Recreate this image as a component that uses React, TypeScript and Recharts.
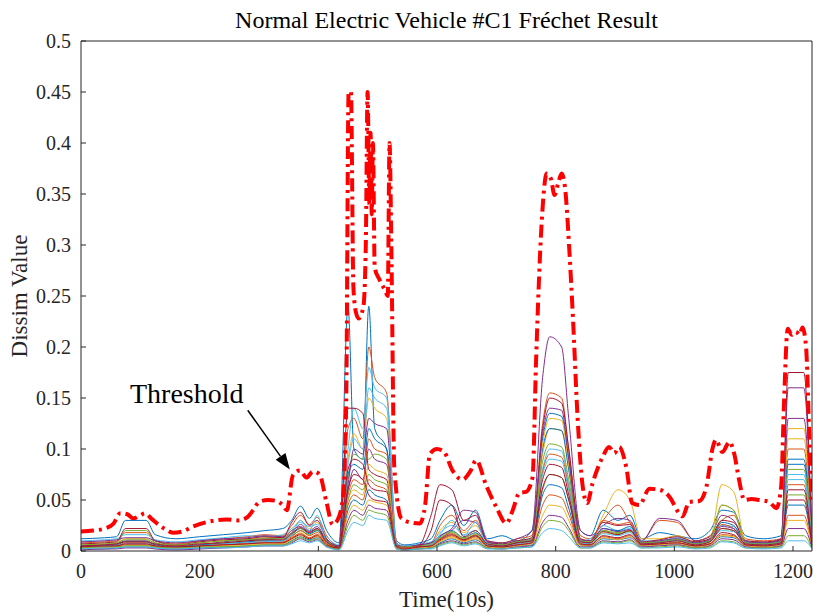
import React from 'react';
import { LineChart, Line, XAxis, YAxis, ReferenceLine } from 'recharts';

// time axis (10 s units) shared by every per-vehicle curve
const times = [0, 40, 60, 75, 110, 125, 160, 200, 240, 280, 310, 340, 355, 370, 385, 398, 414, 435, 450, 460, 475, 485, 495, 515, 532, 545, 570, 590, 605, 625, 645, 665, 685, 710, 735, 760, 778, 790, 810, 822, 842, 858, 880, 905, 925, 945, 975, 1005, 1035, 1060, 1080, 1100, 1120, 1150, 1180, 1192, 1218, 1232];

const s01 = [0.012, 0.013, 0.014, 0.03, 0.03, 0.016, 0.012, 0.014, 0.016, 0.018, 0.02, 0.022, 0.03, 0.044, 0.032, 0.042, 0.02, 0.008, 0.24, 0.1, 0.09, 0.24, 0.12, 0.1, 0.01, 0.006, 0.008, 0.012, 0.03, 0.045, 0.025, 0.04, 0.012, 0.015, 0.01, 0.02, 0.11, 0.135, 0.132, 0.09, 0.02, 0.015, 0.04, 0.03, 0.035, 0.012, 0.018, 0.015, 0.012, 0.02, 0.04, 0.038, 0.015, 0.012, 0.015, 0.085, 0.085, 0.01];
const s02 = [0.008, 0.009, 0.01, 0.018, 0.018, 0.01, 0.007, 0.01, 0.012, 0.014, 0.016, 0.015, 0.025, 0.035, 0.026, 0.033, 0.015, 0.005, 0.12, 0.13, 0.11, 0.2, 0.17, 0.155, 0.008, 0.004, 0.006, 0.008, 0.025, 0.035, 0.02, 0.03, 0.01, 0.008, 0.012, 0.015, 0.125, 0.155, 0.15, 0.1, 0.015, 0.012, 0.03, 0.045, 0.028, 0.01, 0.03, 0.028, 0.01, 0.015, 0.03, 0.035, 0.012, 0.01, 0.012, 0.1, 0.1, 0.008];
const s03 = [0.006, 0.007, 0.008, 0.012, 0.012, 0.008, 0.005, 0.008, 0.01, 0.012, 0.013, 0.014, 0.02, 0.03, 0.022, 0.028, 0.012, 0.004, 0.09, 0.115, 0.1, 0.15, 0.14, 0.13, 0.006, 0.003, 0.005, 0.007, 0.02, 0.028, 0.018, 0.025, 0.008, 0.006, 0.01, 0.012, 0.095, 0.12, 0.118, 0.08, 0.012, 0.01, 0.035, 0.06, 0.05, 0.012, 0.012, 0.015, 0.009, 0.012, 0.065, 0.058, 0.01, 0.008, 0.01, 0.12, 0.12, 0.007];
const s04 = [0.005, 0.006, 0.007, 0.01, 0.01, 0.006, 0.004, 0.006, 0.009, 0.011, 0.012, 0.013, 0.018, 0.026, 0.02, 0.024, 0.01, 0.004, 0.06, 0.08, 0.07, 0.1, 0.09, 0.085, 0.005, 0.005, 0.006, 0.008, 0.012, 0.02, 0.03, 0.028, 0.01, 0.008, 0.012, 0.02, 0.17, 0.21, 0.2, 0.13, 0.02, 0.015, 0.025, 0.032, 0.03, 0.01, 0.032, 0.03, 0.01, 0.014, 0.035, 0.03, 0.01, 0.008, 0.012, 0.16, 0.16, 0.008];
const s05 = [0.004, 0.005, 0.006, 0.02, 0.02, 0.008, 0.004, 0.006, 0.008, 0.01, 0.011, 0.012, 0.015, 0.02, 0.016, 0.02, 0.008, 0.003, 0.07, 0.095, 0.09, 0.09, 0.095, 0.09, 0.004, 0.003, 0.004, 0.006, 0.012, 0.018, 0.012, 0.015, 0.006, 0.005, 0.008, 0.01, 0.06, 0.075, 0.072, 0.05, 0.008, 0.008, 0.02, 0.018, 0.02, 0.008, 0.01, 0.012, 0.008, 0.01, 0.022, 0.02, 0.008, 0.007, 0.009, 0.055, 0.055, 0.006];
const s06 = [0.01, 0.011, 0.012, 0.016, 0.016, 0.011, 0.009, 0.011, 0.013, 0.015, 0.014, 0.016, 0.022, 0.028, 0.024, 0.026, 0.014, 0.006, 0.1, 0.14, 0.12, 0.18, 0.16, 0.15, 0.007, 0.005, 0.007, 0.009, 0.018, 0.025, 0.016, 0.02, 0.008, 0.007, 0.01, 0.012, 0.08, 0.1, 0.098, 0.065, 0.01, 0.012, 0.025, 0.02, 0.022, 0.01, 0.01, 0.013, 0.008, 0.012, 0.025, 0.024, 0.01, 0.008, 0.01, 0.075, 0.075, 0.006];
const s07 = [0.007, 0.008, 0.009, 0.022, 0.022, 0.01, 0.006, 0.009, 0.011, 0.012, 0.014, 0.013, 0.028, 0.038, 0.025, 0.03, 0.012, 0.005, 0.14, 0.14, 0.135, 0.08, 0.075, 0.07, 0.006, 0.004, 0.006, 0.035, 0.065, 0.06, 0.03, 0.035, 0.009, 0.007, 0.01, 0.013, 0.12, 0.15, 0.145, 0.1, 0.012, 0.01, 0.028, 0.025, 0.026, 0.009, 0.011, 0.014, 0.009, 0.012, 0.03, 0.028, 0.01, 0.009, 0.011, 0.175, 0.175, 0.009];
const s08 = [0.005, 0.005, 0.006, 0.009, 0.009, 0.006, 0.004, 0.006, 0.007, 0.009, 0.01, 0.01, 0.016, 0.022, 0.017, 0.02, 0.009, 0.004, 0.075, 0.085, 0.08, 0.12, 0.11, 0.1, 0.005, 0.003, 0.004, 0.006, 0.014, 0.02, 0.013, 0.018, 0.006, 0.005, 0.008, 0.01, 0.1, 0.12, 0.118, 0.08, 0.01, 0.008, 0.022, 0.02, 0.024, 0.008, 0.009, 0.011, 0.007, 0.01, 0.028, 0.025, 0.008, 0.007, 0.009, 0.09, 0.09, 0.006];
const s09 = [0.003, 0.004, 0.005, 0.008, 0.008, 0.005, 0.003, 0.005, 0.006, 0.008, 0.009, 0.009, 0.014, 0.02, 0.015, 0.018, 0.008, 0.003, 0.055, 0.07, 0.065, 0.11, 0.1, 0.095, 0.004, 0.003, 0.004, 0.005, 0.012, 0.017, 0.011, 0.016, 0.005, 0.004, 0.007, 0.009, 0.078, 0.095, 0.092, 0.062, 0.008, 0.007, 0.03, 0.026, 0.028, 0.007, 0.008, 0.01, 0.006, 0.009, 0.026, 0.022, 0.007, 0.006, 0.008, 0.065, 0.065, 0.005];
const s10 = [0.002, 0.003, 0.004, 0.006, 0.006, 0.004, 0.002, 0.004, 0.005, 0.007, 0.008, 0.008, 0.012, 0.018, 0.013, 0.016, 0.007, 0.003, 0.05, 0.06, 0.055, 0.085, 0.08, 0.075, 0.004, 0.002, 0.003, 0.005, 0.01, 0.014, 0.01, 0.013, 0.004, 0.004, 0.006, 0.008, 0.105, 0.13, 0.128, 0.085, 0.009, 0.006, 0.018, 0.016, 0.02, 0.006, 0.007, 0.009, 0.005, 0.008, 0.045, 0.04, 0.006, 0.005, 0.007, 0.11, 0.11, 0.005];
const s11 = [0.009, 0.01, 0.011, 0.013, 0.013, 0.01, 0.008, 0.01, 0.012, 0.013, 0.015, 0.014, 0.02, 0.024, 0.019, 0.022, 0.011, 0.005, 0.065, 0.1, 0.095, 0.13, 0.125, 0.12, 0.006, 0.004, 0.006, 0.008, 0.015, 0.022, 0.04, 0.038, 0.009, 0.006, 0.009, 0.011, 0.115, 0.14, 0.138, 0.09, 0.011, 0.01, 0.022, 0.019, 0.021, 0.008, 0.01, 0.012, 0.008, 0.011, 0.024, 0.022, 0.009, 0.008, 0.01, 0.13, 0.13, 0.007];
const s12 = [0.006, 0.007, 0.008, 0.011, 0.011, 0.008, 0.006, 0.008, 0.01, 0.011, 0.012, 0.012, 0.018, 0.022, 0.018, 0.021, 0.01, 0.004, 0.05, 0.065, 0.06, 0.075, 0.07, 0.065, 0.005, 0.004, 0.005, 0.007, 0.013, 0.019, 0.013, 0.017, 0.007, 0.006, 0.009, 0.011, 0.088, 0.105, 0.102, 0.07, 0.01, 0.009, 0.02, 0.017, 0.019, 0.008, 0.009, 0.011, 0.007, 0.01, 0.045, 0.04, 0.008, 0.007, 0.009, 0.08, 0.08, 0.006];
const s13 = [0.004, 0.005, 0.005, 0.007, 0.007, 0.005, 0.004, 0.005, 0.007, 0.008, 0.009, 0.01, 0.016, 0.03, 0.02, 0.035, 0.009, 0.004, 0.085, 0.11, 0.1, 0.16, 0.15, 0.14, 0.005, 0.003, 0.004, 0.006, 0.016, 0.03, 0.015, 0.028, 0.006, 0.005, 0.007, 0.009, 0.075, 0.09, 0.088, 0.06, 0.008, 0.007, 0.017, 0.015, 0.018, 0.007, 0.008, 0.01, 0.006, 0.009, 0.02, 0.019, 0.007, 0.006, 0.008, 0.07, 0.07, 0.005];
const s14 = [0.005, 0.006, 0.007, 0.009, 0.009, 0.007, 0.005, 0.007, 0.008, 0.01, 0.011, 0.011, 0.017, 0.023, 0.018, 0.022, 0.009, 0.004, 0.08, 0.09, 0.085, 0.065, 0.06, 0.058, 0.005, 0.003, 0.005, 0.02, 0.05, 0.045, 0.014, 0.02, 0.007, 0.005, 0.008, 0.01, 0.07, 0.085, 0.082, 0.055, 0.009, 0.008, 0.019, 0.016, 0.02, 0.007, 0.008, 0.01, 0.006, 0.009, 0.022, 0.02, 0.007, 0.006, 0.008, 0.06, 0.06, 0.005];
const s15 = [0.002, 0.002, 0.003, 0.004, 0.004, 0.003, 0.002, 0.003, 0.004, 0.005, 0.006, 0.006, 0.01, 0.014, 0.011, 0.013, 0.005, 0.002, 0.04, 0.05, 0.045, 0.06, 0.055, 0.05, 0.003, 0.002, 0.003, 0.004, 0.008, 0.012, 0.008, 0.011, 0.004, 0.003, 0.005, 0.006, 0.055, 0.065, 0.062, 0.042, 0.006, 0.005, 0.012, 0.011, 0.013, 0.005, 0.006, 0.007, 0.004, 0.006, 0.014, 0.013, 0.005, 0.004, 0.006, 0.045, 0.045, 0.004];
const s16 = [0.004, 0.004, 0.005, 0.006, 0.006, 0.005, 0.003, 0.005, 0.006, 0.007, 0.008, 0.008, 0.013, 0.017, 0.013, 0.016, 0.007, 0.003, 0.045, 0.055, 0.05, 0.07, 0.065, 0.06, 0.004, 0.003, 0.004, 0.005, 0.01, 0.015, 0.01, 0.014, 0.005, 0.004, 0.006, 0.008, 0.045, 0.055, 0.052, 0.036, 0.006, 0.006, 0.014, 0.012, 0.015, 0.006, 0.007, 0.008, 0.005, 0.007, 0.016, 0.015, 0.006, 0.005, 0.007, 0.035, 0.035, 0.004];
const s17 = [0.003, 0.003, 0.004, 0.005, 0.005, 0.004, 0.003, 0.004, 0.005, 0.006, 0.007, 0.007, 0.011, 0.015, 0.012, 0.014, 0.006, 0.002, 0.035, 0.045, 0.04, 0.05, 0.048, 0.045, 0.003, 0.002, 0.003, 0.004, 0.009, 0.013, 0.009, 0.012, 0.004, 0.003, 0.005, 0.007, 0.035, 0.045, 0.043, 0.03, 0.005, 0.005, 0.013, 0.011, 0.014, 0.005, 0.006, 0.007, 0.004, 0.006, 0.015, 0.014, 0.005, 0.004, 0.006, 0.03, 0.03, 0.003];
const s18 = [0.001, 0.002, 0.002, 0.003, 0.003, 0.002, 0.001, 0.002, 0.003, 0.004, 0.005, 0.005, 0.008, 0.012, 0.009, 0.011, 0.004, 0.002, 0.03, 0.04, 0.035, 0.045, 0.042, 0.04, 0.002, 0.001, 0.002, 0.003, 0.007, 0.01, 0.007, 0.009, 0.003, 0.002, 0.004, 0.005, 0.028, 0.035, 0.033, 0.023, 0.004, 0.004, 0.01, 0.009, 0.011, 0.004, 0.005, 0.006, 0.003, 0.005, 0.012, 0.011, 0.004, 0.003, 0.005, 0.022, 0.022, 0.003];
const s19 = [0.003, 0.004, 0.004, 0.005, 0.005, 0.004, 0.003, 0.004, 0.004, 0.005, 0.006, 0.006, 0.009, 0.013, 0.01, 0.012, 0.005, 0.002, 0.025, 0.035, 0.03, 0.04, 0.038, 0.035, 0.002, 0.001, 0.002, 0.003, 0.006, 0.009, 0.006, 0.008, 0.003, 0.002, 0.003, 0.004, 0.024, 0.03, 0.028, 0.02, 0.003, 0.003, 0.009, 0.008, 0.01, 0.003, 0.004, 0.005, 0.003, 0.004, 0.01, 0.009, 0.003, 0.003, 0.004, 0.015, 0.015, 0.002];
const s20 = [0.002, 0.003, 0.003, 0.004, 0.004, 0.003, 0.002, 0.003, 0.003, 0.004, 0.005, 0.005, 0.007, 0.01, 0.008, 0.01, 0.004, 0.001, 0.02, 0.028, 0.025, 0.035, 0.032, 0.03, 0.002, 0.001, 0.002, 0.002, 0.005, 0.008, 0.005, 0.007, 0.002, 0.002, 0.003, 0.004, 0.018, 0.022, 0.02, 0.014, 0.003, 0.003, 0.008, 0.007, 0.008, 0.003, 0.003, 0.004, 0.002, 0.003, 0.009, 0.008, 0.003, 0.002, 0.003, 0.01, 0.01, 0.002];
const s21 = [0.004, 0.005, 0.005, 0.007, 0.007, 0.005, 0.004, 0.005, 0.006, 0.007, 0.008, 0.008, 0.012, 0.016, 0.012, 0.015, 0.006, 0.003, 0.06, 0.075, 0.07, 0.055, 0.05, 0.048, 0.004, 0.002, 0.004, 0.005, 0.011, 0.016, 0.011, 0.015, 0.005, 0.004, 0.006, 0.008, 0.062, 0.075, 0.072, 0.05, 0.007, 0.006, 0.015, 0.013, 0.016, 0.006, 0.007, 0.008, 0.005, 0.007, 0.018, 0.016, 0.006, 0.005, 0.007, 0.05, 0.05, 0.004];

// dissimilarity threshold
const thresholdTimes = [0, 20, 40, 55, 66, 78, 88, 100, 108, 120, 140, 155, 170, 189, 217, 245, 265, 280, 290, 300, 315, 330, 340, 347, 357, 369, 380, 391, 402, 414, 424, 432, 441, 447, 451, 455, 459, 463, 468, 476, 480, 483, 486, 488, 490, 492, 495, 503, 512, 517, 520, 523, 528, 540, 555, 571, 580, 588, 600, 612, 626, 643, 656, 666, 683, 700, 717, 727, 739, 750, 761, 767, 776, 785, 792, 798, 804, 810, 816, 823, 829, 837, 845, 853, 862, 879, 890, 899, 907, 919, 929, 941, 958, 975, 992, 1008, 1014, 1025, 1042, 1054, 1065, 1070, 1081, 1093, 1101, 1109, 1118, 1130, 1143, 1160, 1172, 1180, 1185, 1191, 1198, 1205, 1211, 1216, 1222, 1227, 1231];
const thresholdValues = [0.019, 0.02, 0.022, 0.027, 0.037, 0.036, 0.032, 0.035, 0.037, 0.031, 0.022, 0.018, 0.019, 0.024, 0.029, 0.031, 0.03, 0.033, 0.04, 0.048, 0.05, 0.049, 0.045, 0.04, 0.074, 0.079, 0.072, 0.078, 0.075, 0.047, 0.026, 0.03, 0.05, 0.148, 0.45, 0.45, 0.26, 0.235, 0.228, 0.24, 0.3, 0.45, 0.34, 0.41, 0.33, 0.4, 0.278, 0.266, 0.256, 0.25, 0.4, 0.3, 0.082, 0.032, 0.028, 0.027, 0.045, 0.095, 0.1, 0.097, 0.079, 0.07, 0.078, 0.089, 0.064, 0.043, 0.027, 0.039, 0.057, 0.058, 0.072, 0.187, 0.318, 0.37, 0.365, 0.349, 0.36, 0.37, 0.355, 0.295, 0.23, 0.13, 0.066, 0.047, 0.066, 0.092, 0.102, 0.096, 0.102, 0.082, 0.047, 0.045, 0.061, 0.06, 0.053, 0.037, 0.034, 0.048, 0.049, 0.063, 0.102, 0.109, 0.097, 0.107, 0.095, 0.07, 0.05, 0.051, 0.05, 0.048, 0.042, 0.063, 0.148, 0.218, 0.212, 0.215, 0.212, 0.219, 0.2, 0.12, 0.05];

const xTicks = [0, 200, 400, 600, 800, 1000, 1200];
const yTicks = [0, 0.05, 0.1, 0.15, 0.2, 0.25, 0.3, 0.35, 0.4, 0.45, 0.5];

const seriesValues = [s01, s02, s03, s04, s05, s06, s07, s08, s09, s10, s11, s12, s13, s14, s15, s16, s17, s18, s19, s20, s21];
const palette = ['#0072BD', '#D95319', '#EDB120', '#7E2F8E', '#77AC30', '#4DBEEE', '#A2142F'];

const table = times.map((t, i) => {
  const row: Record<string, number> = { t };
  seriesValues.forEach((vals, k) => {
    row['s' + k] = vals[i];
  });
  return row;
});
const thresholdData = thresholdTimes.map((t, i) => ({ t, v: thresholdValues[i] }));

const serif = '"Liberation Serif", "Times New Roman", serif';
const axisColor = '#262626';

const XTick = (props: any) => (
  <text x={props.x} y={props.y} dy="0.71em" textAnchor="middle" fontFamily={serif} fontSize={20} fill={axisColor}>
    {props.payload.value}
  </text>
);

const YTick = (props: any) => (
  <text x={props.x} y={props.y} dy="0.35em" textAnchor="end" fontFamily={serif} fontSize={20} fill={axisColor}>
    {props.payload.value}
  </text>
);

const Arrow = (props: any) => {
  const { x1, y1, x2, y2 } = props;
  const ang = Math.atan2(y2 - y1, x2 - x1);
  const len = 16;
  const half = 6;
  const bx = x2 - len * Math.cos(ang);
  const by = y2 - len * Math.sin(ang);
  const px = -Math.sin(ang) * half;
  const py = Math.cos(ang) * half;
  return (
    <g>
      <line x1={x1} y1={y1} x2={bx} y2={by} stroke="#000" strokeWidth={1.5} />
      <polygon points={`${x2},${y2} ${bx + px},${by + py} ${bx - px},${by - py}`} fill="#000" />
    </g>
  );
};

export default function App() {
  return (
    <div style={{ position: 'absolute', left: 0, top: 0, width: 813, height: 612, background: '#fff', fontFamily: serif }}>
      <LineChart width={813} height={612} data={table} margin={{ top: 40, right: 0, bottom: 60, left: 80 }}>
        <XAxis
          dataKey="t"
          type="number"
          domain={[0, 1232]}
          ticks={xTicks}
          allowDataOverflow
          height={1}
          tickSize={-5}
          tickMargin={18}
          stroke={axisColor}
          tick={<XTick />}
        />
        <XAxis
          xAxisId="top"
          orientation="top"
          type="number"
          domain={[0, 1232]}
          ticks={xTicks}
          height={1}
          tickSize={-5}
          tick={false}
          stroke={axisColor}
        />
        <YAxis
          type="number"
          domain={[0, 0.5]}
          ticks={yTicks}
          allowDataOverflow
          width={1}
          tickSize={-5}
          tickMargin={15}
          stroke={axisColor}
          tick={<YTick />}
        />
        <YAxis
          yAxisId="right"
          orientation="right"
          type="number"
          domain={[0, 0.5]}
          ticks={yTicks}
          width={1}
          tickSize={-5}
          tick={false}
          stroke={axisColor}
        />
        {seriesValues.map((_, k) => (
          <Line
            key={k}
            dataKey={'s' + k}
            type="monotone"
            stroke={palette[k % palette.length]}
            strokeWidth={1}
            dot={false}
            activeDot={false}
            isAnimationActive={false}
          />
        ))}
        <Line
          data={thresholdData}
          dataKey="v"
          type="monotone"
          stroke="#FF0000"
          strokeWidth={4}
          strokeDasharray="13 5 3 5"
          dot={false}
          activeDot={false}
          isAnimationActive={false}
        />
        <ReferenceLine
          segment={[{ x: 281, y: 0.138 }, { x: 352, y: 0.08 }]}
          shape={Arrow}
        />
      </LineChart>
      <div style={{ position: 'absolute', left: 81, width: 731, top: 7, textAlign: 'center', fontFamily: serif, fontSize: 24, lineHeight: '26px', color: '#000' }}>
        Normal Electric Vehicle #C1 Fréchet Result
      </div>
      <div style={{ position: 'absolute', left: 81, width: 731, top: 588, textAlign: 'center', fontFamily: serif, fontSize: 23, lineHeight: '24px', color: axisColor }}>
        Time(10s)
      </div>
      <div style={{ position: 'absolute', left: 20, top: 296, width: 0, height: 0 }}>
        <div style={{ position: 'absolute', left: -100, top: -12, width: 200, textAlign: 'center', transform: 'rotate(-90deg)', fontFamily: serif, fontSize: 23, lineHeight: '24px', color: axisColor, whiteSpace: 'nowrap' }}>
          Dissim Value
        </div>
      </div>
      <div style={{ position: 'absolute', left: 130, top: 379, fontFamily: serif, fontSize: 28, lineHeight: '30px', color: '#000' }}>
        Threshold
      </div>
    </div>
  );
}
